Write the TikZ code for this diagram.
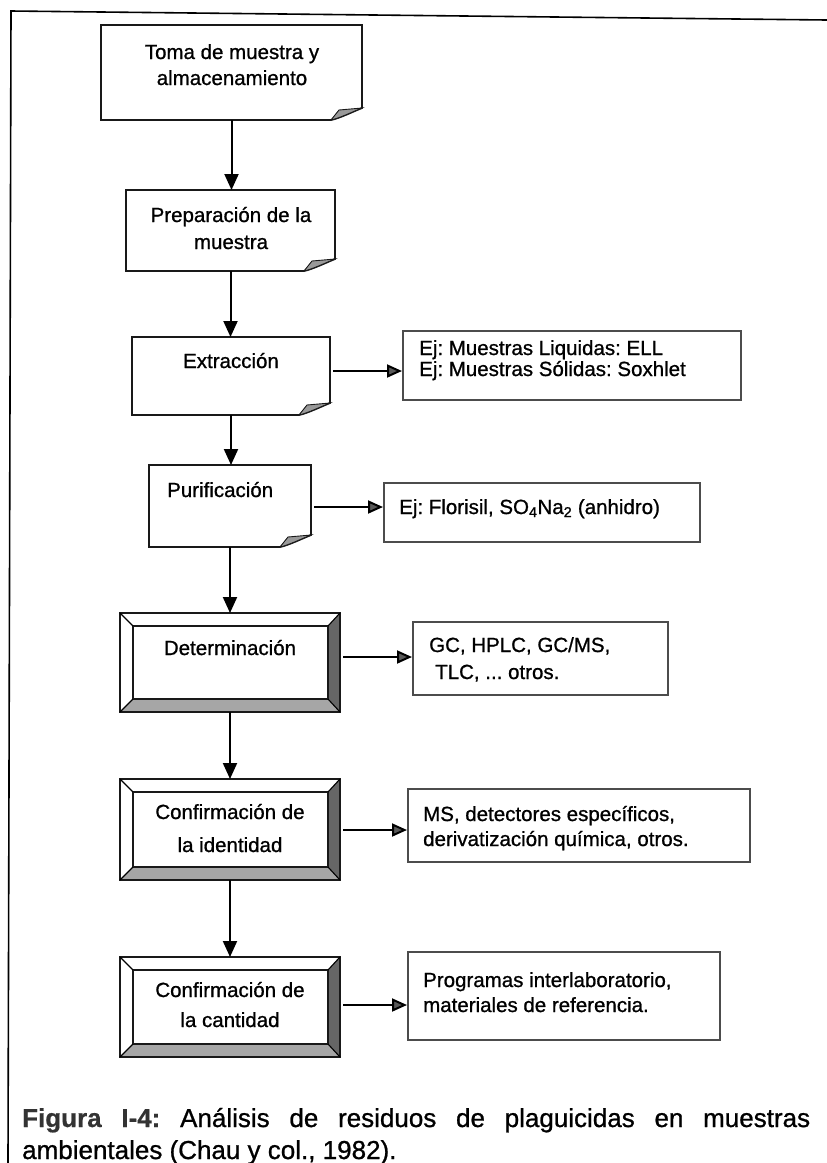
\documentclass[tikz,border=0pt]{standalone}
\usepackage{fontspec}
\setmainfont{Liberation Sans}
\newfontfamily\inkfont{Liberation Sans}[FakeBold=0.9]
\newfontfamily\inkbold{Liberation Sans Bold}[FakeBold=0.6]
\frenchspacing
\usetikzlibrary{arrows.meta}

% box with a curled lower-right corner, drawn around an empty node
\newcommand\notebox[1]{%
  \draw[outline] (#1.north west) -- (#1.north east) -- ([yshift=12pt]#1.south east)
    .. controls ([xshift=-10pt,yshift=8pt]#1.south east) and ([xshift=-22pt,yshift=2pt]#1.south east)
    .. ([xshift=-31pt]#1.south east) -- (#1.south west) -- cycle;
  \filldraw[foldfill] ([yshift=12pt]#1.south east)
    .. controls ([xshift=-10pt,yshift=8pt]#1.south east) and ([xshift=-22pt,yshift=2pt]#1.south east)
    .. ([xshift=-31pt]#1.south east) -- ([xshift=-23pt,yshift=10pt]#1.south east) -- cycle;
}
% raised bevelled box, drawn around an empty node
\newcommand\bevelbox[1]{%
  \coordinate (#1-a) at ([xshift=13pt,yshift=-13pt]#1.north west);
  \coordinate (#1-b) at ([xshift=-12pt,yshift=-13pt]#1.north east);
  \coordinate (#1-c) at ([xshift=-12pt,yshift=13pt]#1.south east);
  \coordinate (#1-d) at ([xshift=13pt,yshift=13pt]#1.south west);
  \fill[bevelB] (#1.south west) -- (#1.south east) -- (#1-c) -- (#1-d) -- cycle;
  \fill[bevelR] (#1.south east) -- (#1.north east) -- (#1-b) -- (#1-c) -- cycle;
  \draw[outline] (#1.north west) rectangle (#1.south east);
  \draw[outline, line width=1.3pt] (#1-a) rectangle (#1-c);
  \draw[line width=1.1pt] (#1.north west) -- (#1-a) (#1.north east) -- (#1-b)
    (#1.south east) -- (#1-c) (#1.south west) -- (#1-d);
}

\begin{document}
\begin{tikzpicture}[x=1pt,y=-1pt,
  box/.style={inner sep=0pt, outer sep=0pt, anchor=north west},
  outline/.style={draw=black!90, line width=1.8pt, line join=miter},
  sidebox/.style={box, draw=black!70, line width=1.1pt},
  txt/.style={inner sep=0pt, anchor=base, font=\inkfont\fontsize{20.5}{24}\selectfont},
  ltxt/.style={inner sep=0pt, anchor=base west, font=\inkfont\fontsize{20.5}{24}\selectfont},
  flow/.style={line width=2pt, -{Triangle[length=16pt,width=14pt]}},
  side/.style={line width=2pt, shorten <=3pt, shorten >=1pt,
    -{Triangle[length=15pt,width=13pt,fill=black!65]}},
  foldfill/.style={fill=black!40, draw=black!90, line width=0.9pt},
  bevelB/.style={fill=black!35},
  bevelR/.style={fill=black!60},
]
\path[use as bounding box] (0,0) rectangle (827,1163);

% page frame
\draw[line width=1.6pt] (827,20) -- (11,11) -- (8,1163);

% process boxes
\node[box, minimum width=261pt, minimum height=95pt]  (toma)     at (101,25)  {};
\node[box, minimum width=209pt, minimum height=81pt]  (prep)     at (126,190) {};
\node[box, minimum width=198pt, minimum height=78pt]  (extr)     at (132,337) {};
\node[box, minimum width=162pt, minimum height=82pt]  (purif)    at (149,465) {};
\node[box, minimum width=220pt, minimum height=99pt]  (deter)    at (120,613) {};
\node[box, minimum width=220pt, minimum height=101pt] (confid)   at (120,779) {};
\node[box, minimum width=220pt, minimum height=100pt] (confcant) at (120,957) {};

\notebox{toma}
\notebox{prep}
\notebox{extr}
\notebox{purif}
\bevelbox{deter}
\bevelbox{confid}
\bevelbox{confcant}

\node[txt] (tomaA) at (232,59)  {Toma de muestra y};
\node[txt] (tomaB) at (232,85)  {almacenamiento};
\node[txt] (prepA) at (231,222) {Preparación de la};
\node[txt] (prepB) at (231,249) {muestra};
\node[txt] (extrA) at (231,368) {Extracción};
\node[ltxt] (purifA) at (167,497) {Purificación};
\node[txt] (deterA) at (230,655) {Determinación};
\node[txt] (confidA) at (230,819) {Confirmación de};
\node[txt] (confidB) at (230,852) {la identidad};
\node[txt] (confcantA) at (230,997) {Confirmación de};
\node[txt] (confcantB) at (230,1027) {la cantidad};

% side notes
\node[sidebox, minimum width=338pt, minimum height=69pt] (ejext)   at (403,331) {};
\node[sidebox, minimum width=316pt, minimum height=59pt] (ejpur)   at (384,483) {};
\node[sidebox, minimum width=255pt, minimum height=73pt] (tecdet)  at (413,622) {};
\node[sidebox, minimum width=342pt, minimum height=73pt] (tecid)   at (408,789) {};
\node[sidebox, minimum width=312pt, minimum height=88pt] (teccant) at (408,952) {};

\node[ltxt] (ejextA) at (419,355) {Ej: Muestras Liquidas: ELL};
\node[ltxt] (ejextB) at (419,376) {Ej: Muestras Sólidas: Soxhlet};
\node[ltxt] (ejpurA) at (399,514) {Ej: Florisil, SO\textsubscript{4}Na\textsubscript{2} (anhidro)};
\node[ltxt] (tecdetA) at (429,652) {GC, HPLC, GC/MS,};
\node[ltxt] (tecdetB) at (435,679) {TLC, ... otros.};
\node[ltxt] (tecidA) at (423,821) {MS, detectores específicos,};
\node[ltxt] (tecidB) at (423,846) {derivatización química, otros.};
\node[ltxt] (teccantA) at (423,987) {Programas interlaboratorio,};
\node[ltxt] (teccantB) at (423,1012) {materiales de referencia.};

% main flow
\draw[flow] (toma.south)   -- (toma.south |- prep.north);
\draw[flow] (prep.south)   -- (prep.south |- extr.north);
\draw[flow] (extr.south)   -- (extr.south |- purif.north);
\draw[flow] (purif.south)  -- (purif.south |- deter.north);
\draw[flow] (deter.south)  -- (deter.south |- confid.north);
\draw[flow] (confid.south) -- (confid.south |- confcant.north);

% links to the notes
\draw[side] (extr.east |- 0,371)      -- (ejext.west |- 0,371);
\draw[side] (purif.east |- 0,507)     -- (ejpur.west |- 0,507);
\draw[side] (deter.east |- 0,657)     -- (tecdet.west |- 0,657);
\draw[side] (confid.east |- 0,830)    -- (tecid.west |- 0,830);
\draw[side] (confcant.east |- 0,1005) -- (teccant.west |- 0,1005);

% caption
\node[inner sep=0pt, anchor=base west, font=\inkfont\fontsize{26}{32}\selectfont] (capA) at (22,1127)
  {\makebox[788pt][s]{\textcolor{black!80}{\inkbold Figura I-4:} Análisis de residuos de plaguicidas en muestras}};
\node[inner sep=0pt, anchor=base west, font=\inkfont\fontsize{26}{32}\selectfont] (capB) at (22,1159)
  {ambientales (Chau y col., 1982).};
\end{tikzpicture}
\end{document}
